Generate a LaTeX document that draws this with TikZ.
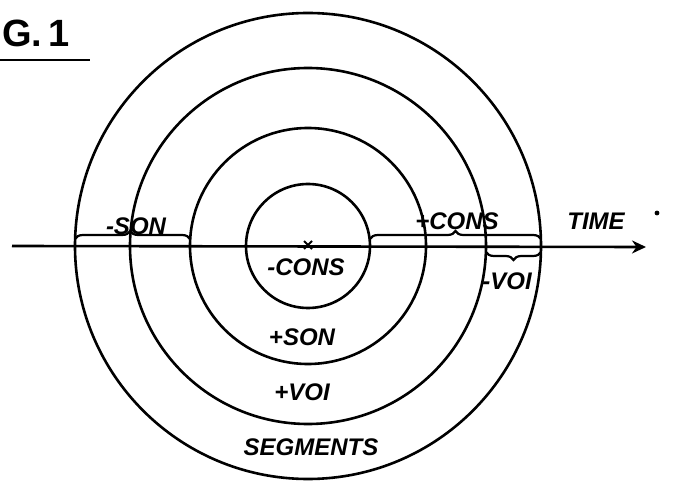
\documentclass[tikz,border=0pt]{standalone}
\usepackage{fontspec}
\setsansfont{Liberation Sans}
\usepackage{tikz}
\usetikzlibrary{positioning, arrows.meta, decorations.pathreplacing, calc}
\definecolor{cInk}{HTML}{000000}

\tikzset{
  ring/.style={draw=cInk, line width=2.6pt},
  lbl/.style={font=\sffamily\itshape\bfseries\fontsize{24}{24}\selectfont, text=cInk, inner sep=1pt},
  bracetop/.style={draw=cInk, line width=2.2pt, decorate, decoration={brace, amplitude=8pt}},
  bracebot/.style={draw=cInk, line width=2.2pt, decorate, decoration={brace, mirror, amplitude=8pt}},
}

\begin{document}
\begin{tikzpicture}[x=1pt, y=-1pt]
        \useasboundingbox (0,0) rectangle (673,484);
        \coordinate (o) at (308,246);
        % the four rings
        \draw[ring] (o) circle[radius=62];
        \draw[ring] (o) circle[radius=118];
        \draw[ring] (o) circle[radius=178];
        \draw[ring] (o) circle[radius=233];
        % time axis
        \coordinate (tstart) at (12,246);
        \coordinate (tend) at (646,247);
        \draw[cInk, line width=2.6pt, -{Stealth[length=14pt, width=13pt]}] (tstart) -- (tend);
        % centre mark
        \coordinate (ctr) at ($(o)+(0,-1)$);
        \draw[cInk, line width=2pt] ($(ctr)+(-4,-4)$) -- ($(ctr)+(4,4)$);
        \draw[cInk, line width=2pt] ($(ctr)+(-4,4)$) -- ($(ctr)+(4,-4)$);
        % braces along the axis
        \coordinate (sonA) at ($(o)+(-233,-7)$);
        \coordinate (sonB) at ($(o)+(-118,-7)$);
        \coordinate (consA) at ($(o)+(62,-7)$);
        \coordinate (consB) at ($(o)+(233,-7)$);
        \coordinate (voiA) at ($(o)+(178,6)$);
        \coordinate (voiB) at ($(o)+(233,6)$);
        \draw[bracetop, decoration={aspect=0.48}] (sonA) -- (sonB);
        \draw[bracetop, decoration={aspect=0.5}] (consA) -- (consB);
        \draw[bracebot, decoration={aspect=0.5}] (voiA) -- (voiB);
        % labels
        \node[lbl] (son) at (136,226) {-SON};
        \node[lbl] (cons) at (457,221) {+CONS};
        \node[lbl] (time) at (596,221) {TIME};
        \node[lbl] (voi) at (507,281) {-VOI};
        \node[lbl] (mcons) at (306,267) {-CONS};
        \node[lbl] (pson) at (302,337) {+SON};
        \node[lbl] (pvoi) at (302,392) {+VOI};
        \node[lbl] (seg) at (311,447) {SEGMENTS};
        \fill[cInk] (657,213) circle[radius=2.4pt];
        % figure caption
        \node[font=\sffamily\bfseries\fontsize{38}{38}\selectfont, inner sep=0pt, anchor=base west] (fig) at (2,47) {G.\,1};
        \draw[cInk, line width=2.6pt] (0,60) -- (90,60);
      \end{tikzpicture}
\end{document}
